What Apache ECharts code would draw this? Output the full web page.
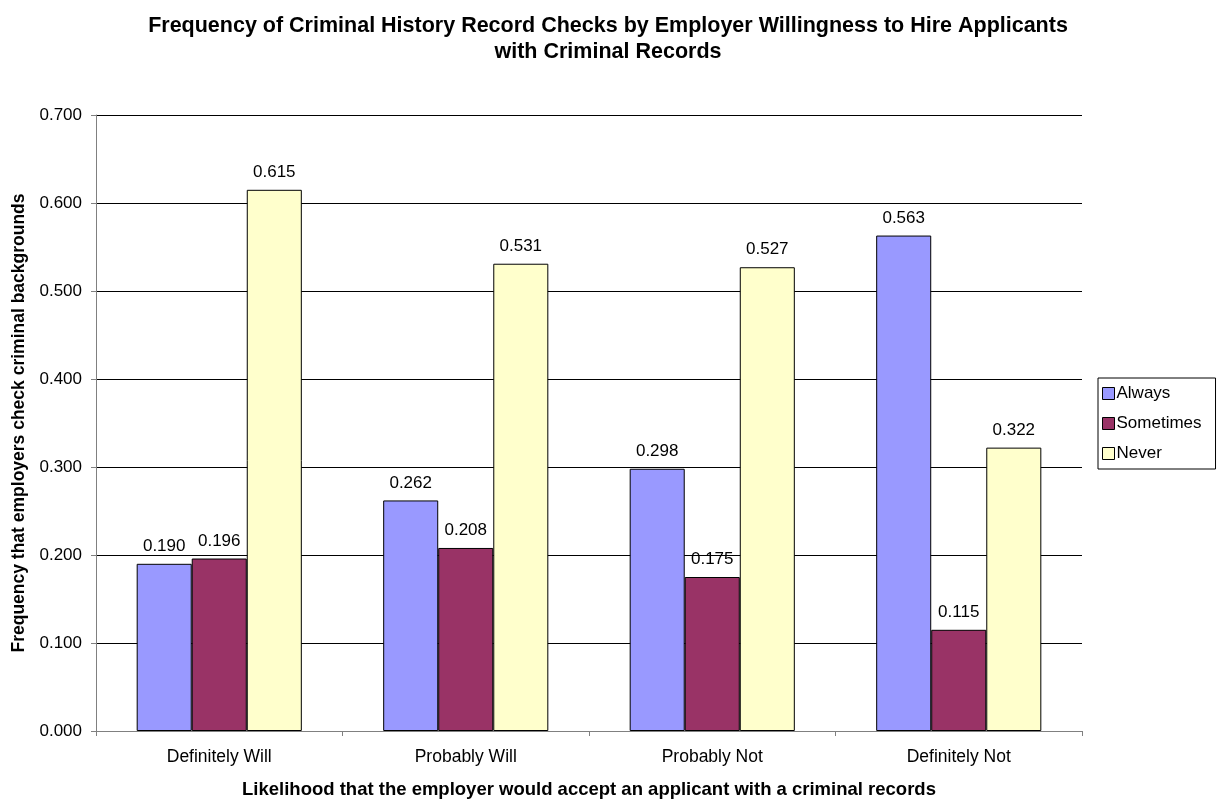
<!DOCTYPE html>
<html>
<head>
<meta charset="utf-8">
<script src="https://cdn.jsdelivr.net/npm/echarts@6/dist/echarts.min.js"></script>
<style>
  html, body { margin: 0; padding: 0; background: #fff; }
  #chart { width: 1219px; height: 804px; }
</style>
</head>
<body>
<div id="chart"></div>
<script>
const categories = ['Definitely Will', 'Probably Will', 'Probably Not', 'Definitely Not'];
const always = [0.190, 0.262, 0.298, 0.563];
const sometimes = [0.196, 0.208, 0.175, 0.115];
const never = [0.615, 0.531, 0.527, 0.322];

const font = '"Liberation Sans", Arial, sans-serif';

const chart = echarts.init(document.getElementById('chart'));

function barSeries(name, data, color) {
  return {
    name: name,
    type: 'bar',
    data: data,
    barGap: '0%',
    barCategoryGap: '33%',
    itemStyle: { color: color, borderColor: '#000', borderWidth: 1 },
    label: {
      show: true,
      position: 'top',
      distance: 9,
      formatter: p => p.value.toFixed(3),
      fontFamily: font,
      fontSize: 17,
      color: '#000'
    }
  };
}

chart.setOption({
  animation: false,
  textStyle: { fontFamily: font },
  title: {
    text: 'Frequency of Criminal History Record Checks by Employer Willingness to Hire Applicants\nwith Criminal Records',
    left: 603,
    textAlign: 'center',
    top: 8,
    textStyle: { fontFamily: font, fontSize: 21.5, fontWeight: 'bold', color: '#000', lineHeight: 26 }
  },
  legend: {
    orient: 'vertical',
    left: 1098,
    top: 378,
    itemWidth: 12,
    itemHeight: 12,
    itemGap: 13,
    padding: [7, 14, 7, 4],
    borderColor: '#000',
    borderWidth: 1,
    icon: 'rect',
    itemStyle: { borderColor: '#000', borderWidth: 1 },
    textStyle: { fontFamily: font, fontSize: 17, color: '#000', padding: [0, 0, 0, -3] },
    data: ['Always', 'Sometimes', 'Never']
  },
  grid: { left: 96, right: 137, top: 115, bottom: 72 },
  xAxis: {
    type: 'category',
    data: categories,
    name: 'Likelihood that the employer would accept an applicant with a criminal records',
    nameLocation: 'middle',
    nameGap: 49,
    nameTextStyle: { fontFamily: font, fontSize: 18.5, fontWeight: 'bold', color: '#000' },
    axisLine: { lineStyle: { color: '#808080', width: 1 } },
    axisTick: { show: true, length: 5, lineStyle: { color: '#808080' } },
    axisLabel: { fontFamily: font, fontSize: 17.5, color: '#000', margin: 17 }
  },
  yAxis: {
    type: 'value',
    min: 0,
    max: 0.7,
    interval: 0.1,
    name: 'Frequency that employers check criminal backgrounds',
    nameLocation: 'middle',
    nameGap: 64,
    nameTextStyle: { fontFamily: font, fontSize: 17.5, fontWeight: 'bold', color: '#000' },
    axisLine: { show: true, lineStyle: { color: '#808080', width: 1 } },
    axisTick: { show: true, length: 5, lineStyle: { color: '#808080' } },
    axisLabel: { fontFamily: font, fontSize: 17, color: '#000', margin: 14, formatter: v => v.toFixed(3) },
    splitLine: { show: true, lineStyle: { color: '#000', width: 1 } }
  },
  series: [
    barSeries('Always', always, '#9999FF'),
    barSeries('Sometimes', sometimes, '#993366'),
    barSeries('Never', never, '#FFFFCC')
  ]
});

window.addEventListener('resize', () => chart.resize());
</script>
</body>
</html>
